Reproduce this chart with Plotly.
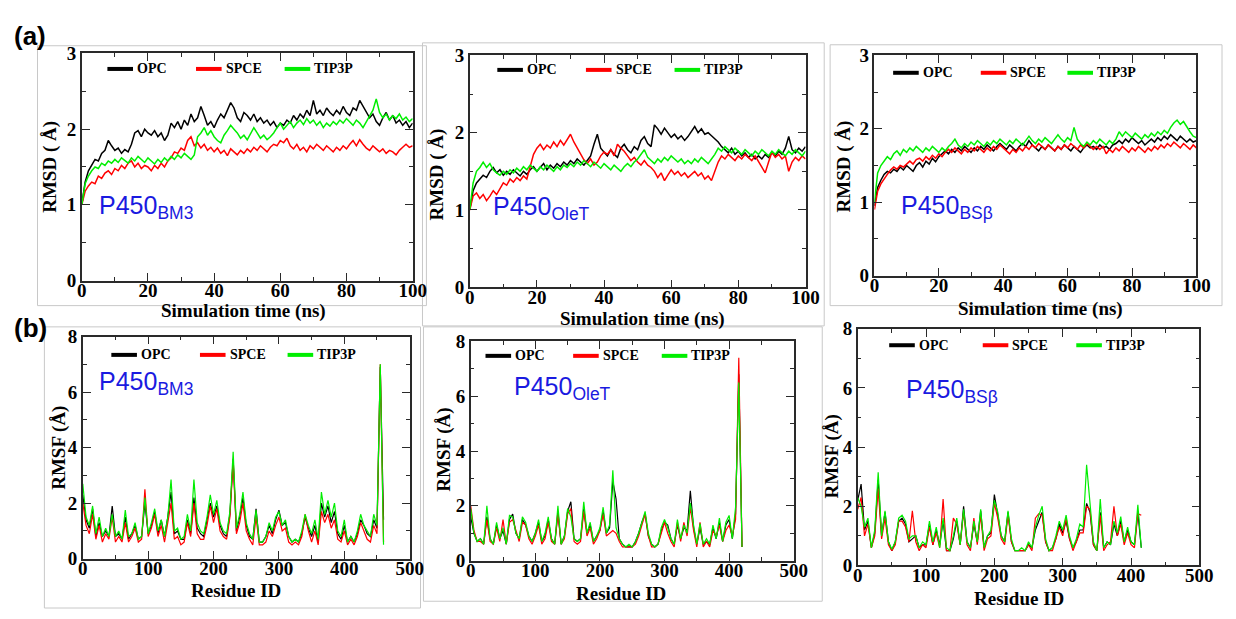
import plotly.graph_objects as go

W, H = 1236, 619

# ---------------- data ----------------
TIME_NS = list(range(0, 101))
RES_BM3 = list(range(0, 461, 5))
RES_OLET = list(range(0, 421, 5))
RES_BSB = list(range(0, 416, 5))
MODELS = ["OPC", "SPCE", "TIP3P"]
COLORS = {"OPC": "#000000", "SPCE": "#ff0000", "TIP3P": "#00ee00"}

RMSD_BM3_OPC = [1.00,1.30,1.45,1.52,1.60,1.58,1.68,1.72,1.85,1.78,
 1.72,1.75,1.68,1.73,1.70,1.80,1.95,1.98,1.90,2.00,
 1.95,1.92,1.98,1.90,1.95,1.85,1.92,2.08,2.02,2.10,
 2.00,2.12,2.05,2.20,2.10,2.15,2.30,2.18,2.05,2.10,
 2.02,2.12,2.20,2.15,2.25,2.35,2.28,2.15,2.10,2.22,
 2.18,2.12,2.20,2.10,2.15,2.08,2.12,2.05,2.10,2.02,
 2.08,2.05,2.12,2.08,2.18,2.12,2.20,2.15,2.25,2.18,
 2.38,2.20,2.25,2.18,2.28,2.22,2.18,2.25,2.20,2.30,
 2.22,2.18,2.28,2.25,2.38,2.30,2.22,2.15,2.20,2.10,
 2.05,2.15,2.22,2.12,2.18,2.08,2.12,2.05,2.10,2.02,
 2.08]
RMSD_BM3_SPCE = [1.00,1.18,1.25,1.30,1.28,1.38,1.35,1.42,1.45,1.40,
 1.48,1.45,1.52,1.48,1.55,1.58,1.50,1.55,1.48,1.52,
 1.50,1.45,1.52,1.48,1.55,1.50,1.58,1.62,1.70,1.68,
 1.75,1.72,1.85,1.90,1.78,1.82,1.75,1.80,1.72,1.76,
 1.70,1.75,1.68,1.72,1.65,1.74,1.70,1.66,1.72,1.68,
 1.74,1.70,1.76,1.72,1.78,1.74,1.70,1.76,1.80,1.78,
 1.85,1.82,1.88,1.78,1.74,1.80,1.72,1.76,1.70,1.78,
 1.74,1.80,1.76,1.72,1.78,1.74,1.70,1.76,1.72,1.78,
 1.74,1.80,1.85,1.78,1.86,1.80,1.75,1.72,1.78,1.74,
 1.70,1.74,1.68,1.72,1.70,1.66,1.72,1.76,1.80,1.76,
 1.78]
RMSD_BM3_TIP3P = [1.00,1.28,1.38,1.45,1.50,1.48,1.55,1.52,1.58,1.55,
 1.60,1.56,1.62,1.58,1.55,1.62,1.58,1.64,1.60,1.56,
 1.62,1.58,1.54,1.60,1.56,1.62,1.58,1.64,1.60,1.66,
 1.62,1.68,1.64,1.60,1.66,1.90,1.95,2.02,1.92,1.98,
 1.90,1.85,1.82,1.92,1.98,2.05,2.00,1.95,1.88,1.92,
 1.86,1.95,2.02,1.95,1.88,1.92,1.86,1.90,1.95,2.02,
 2.08,2.00,2.05,2.10,2.02,2.08,2.12,2.06,2.14,2.08,
 2.12,2.05,2.10,2.02,2.08,2.04,2.10,2.06,2.12,2.08,
 2.14,2.10,2.05,2.12,2.08,2.02,2.10,2.18,2.25,2.40,
 2.22,2.15,2.20,2.12,2.18,2.14,2.20,2.12,2.16,2.10,
 2.14]

RMSD_OLET_OPC = [1.00,1.25,1.35,1.40,1.45,1.42,1.50,1.55,1.48,1.52,
 1.45,1.50,1.46,1.52,1.48,1.44,1.50,1.46,1.52,1.56,
 1.50,1.55,1.60,1.52,1.58,1.54,1.60,1.56,1.62,1.58,
 1.64,1.60,1.66,1.62,1.58,1.64,1.70,1.85,1.98,1.80,
 1.75,1.70,1.78,1.72,1.68,1.80,1.85,1.78,1.74,1.82,
 1.78,1.90,1.95,1.86,1.82,2.10,2.05,1.98,2.06,2.00,
 1.94,1.98,1.92,1.96,1.90,1.95,2.02,2.08,2.00,2.05,
 1.98,2.00,1.96,1.92,1.88,1.82,1.78,1.74,1.80,1.72,
 1.76,1.70,1.74,1.68,1.72,1.66,1.70,1.66,1.72,1.68,
 1.74,1.70,1.76,1.72,1.80,1.95,1.78,1.74,1.80,1.76,
 1.82]
RMSD_OLET_SPCE = [1.00,1.18,1.22,1.15,1.20,1.12,1.18,1.25,1.20,1.28,
 1.35,1.32,1.40,1.36,1.42,1.38,1.44,1.40,1.55,1.72,
 1.80,1.85,1.78,1.84,1.80,1.88,1.82,1.90,1.84,1.92,
 1.98,1.88,1.80,1.72,1.65,1.60,1.66,1.58,1.62,1.70,
 1.75,1.72,1.78,1.70,1.85,1.80,1.76,1.70,1.64,1.68,
 1.62,1.58,1.64,1.58,1.55,1.50,1.42,1.48,1.38,1.45,
 1.52,1.46,1.50,1.44,1.48,1.42,1.46,1.50,1.44,1.48,
 1.40,1.44,1.38,1.50,1.62,1.70,1.66,1.72,1.68,1.64,
 1.70,1.66,1.72,1.68,1.64,1.70,1.62,1.55,1.48,1.62,
 1.75,1.68,1.72,1.66,1.70,1.50,1.62,1.68,1.64,1.70,
 1.66]
RMSD_OLET_TIP3P = [1.00,1.35,1.50,1.55,1.62,1.55,1.60,1.52,1.48,1.45,
 1.50,1.46,1.52,1.48,1.54,1.50,1.56,1.52,1.58,1.54,
 1.50,1.56,1.52,1.58,1.54,1.50,1.56,1.52,1.58,1.55,
 1.60,1.56,1.62,1.58,1.64,1.60,1.56,1.62,1.58,1.54,
 1.60,1.56,1.52,1.58,1.54,1.50,1.56,1.60,1.56,1.62,
 1.66,1.72,1.78,1.68,1.64,1.60,1.66,1.62,1.68,1.64,
 1.70,1.66,1.62,1.66,1.60,1.64,1.60,1.66,1.62,1.68,
 1.64,1.60,1.66,1.72,1.80,1.76,1.82,1.78,1.74,1.80,
 1.76,1.72,1.78,1.74,1.70,1.76,1.72,1.78,1.74,1.70,
 1.76,1.72,1.78,1.74,1.70,1.76,1.72,1.78,1.74,1.70,
 1.76]

RMSD_BSB_OPC = [0.95,1.20,1.30,1.38,1.42,1.40,1.45,1.42,1.48,1.44,
 1.50,1.46,1.42,1.50,1.54,1.48,1.56,1.52,1.60,1.55,
 1.62,1.66,1.70,1.66,1.72,1.68,1.74,1.70,1.76,1.72,
 1.68,1.74,1.70,1.76,1.72,1.78,1.74,1.70,1.76,1.80,
 1.76,1.72,1.78,1.74,1.70,1.76,1.80,1.76,1.84,1.78,
 1.74,1.70,1.76,1.72,1.78,1.74,1.70,1.76,1.72,1.78,
 1.74,1.70,1.76,1.72,1.68,1.74,1.78,1.74,1.76,1.72,
 1.78,1.74,1.76,1.72,1.78,1.80,1.84,1.80,1.86,1.82,
 1.88,1.84,1.80,1.84,1.78,1.82,1.86,1.82,1.88,1.84,
 1.90,1.86,1.92,1.88,1.84,1.90,1.86,1.82,1.86,1.82,
 1.84]
RMSD_BSB_SPCE = [0.90,1.15,1.25,1.32,1.38,1.44,1.48,1.45,1.50,1.48,
 1.52,1.56,1.52,1.58,1.60,1.56,1.62,1.58,1.64,1.60,
 1.66,1.62,1.68,1.72,1.68,1.74,1.70,1.66,1.72,1.68,
 1.74,1.70,1.76,1.72,1.68,1.74,1.70,1.76,1.72,1.78,
 1.74,1.70,1.66,1.72,1.68,1.74,1.70,1.76,1.72,1.78,
 1.74,1.80,1.76,1.72,1.78,1.74,1.70,1.76,1.72,1.78,
 1.74,1.80,1.76,1.72,1.78,1.74,1.80,1.76,1.72,1.76,
 1.72,1.76,1.66,1.72,1.68,1.74,1.70,1.76,1.72,1.68,
 1.74,1.70,1.76,1.72,1.68,1.74,1.70,1.76,1.72,1.78,
 1.74,1.80,1.76,1.82,1.78,1.74,1.80,1.76,1.72,1.78,
 1.74]
RMSD_BSB_TIP3P = [1.00,1.40,1.50,1.56,1.62,1.58,1.66,1.70,1.64,1.72,
 1.68,1.74,1.70,1.76,1.72,1.68,1.74,1.70,1.76,1.72,
 1.68,1.74,1.70,1.76,1.80,1.86,1.78,1.74,1.80,1.76,
 1.82,1.78,1.84,1.80,1.76,1.82,1.78,1.84,1.80,1.86,
 1.82,1.78,1.84,1.80,1.86,1.82,1.78,1.84,1.90,1.84,
 1.80,1.86,1.82,1.88,1.84,1.80,1.86,1.92,1.86,1.82,
 1.88,1.84,2.02,1.86,1.80,1.76,1.82,1.78,1.84,1.80,
 1.86,1.82,1.78,1.84,1.80,1.86,1.96,1.90,1.96,1.92,
 1.88,1.94,1.90,1.86,1.92,1.88,1.94,1.90,1.96,1.92,
 1.98,1.94,2.02,2.08,2.12,2.06,2.10,2.02,1.96,1.90,
 1.88]

RMSF_BM3_OPC = [2.3,1.4,1.1,1.8,0.8,1.3,0.8,1.0,0.8,1.9,
 0.8,0.9,0.7,1.5,0.7,0.9,1.2,0.7,0.8,2.0,
 0.9,1.2,1.7,0.9,1.4,0.8,1.5,2.4,0.9,1.0,
 0.7,0.7,1.4,0.9,2.2,1.1,0.9,0.8,1.4,2.0,
 1.5,1.9,1.2,0.9,0.8,1.6,3.6,1.0,1.5,2.2,
 1.2,0.8,0.7,1.8,0.6,0.6,0.8,1.2,0.9,1.4,
 1.75,1.2,1.3,0.8,0.6,0.7,0.6,0.9,1.5,1.1,
 0.8,1.2,0.6,2.0,1.5,1.9,1.3,1.7,0.9,0.7,
 1.2,0.6,0.8,0.6,0.9,1.4,1.2,0.9,0.8,1.4,
 1.1,6.9,1.4]
RMSF_BM3_SPCE = [2.0,1.2,0.9,1.6,0.7,1.2,0.6,0.9,0.7,1.5,
 0.6,0.8,0.6,1.3,0.6,0.8,1.1,0.6,0.7,2.5,
 0.8,1.1,1.6,0.8,1.2,0.6,1.3,2.0,0.7,0.8,
 0.5,0.6,1.3,0.8,2.0,0.9,0.7,0.7,1.2,1.9,
 1.3,1.8,1.0,0.8,0.7,1.5,3.5,0.9,1.3,2.0,
 1.0,0.7,0.5,1.5,0.5,0.5,0.6,1.0,0.8,1.2,
 1.5,1.0,1.1,0.6,0.5,0.6,0.5,0.8,1.6,1.0,
 0.6,1.0,0.5,1.7,1.3,1.6,1.1,1.4,0.7,0.6,
 1.0,0.5,0.7,0.5,0.8,1.3,1.0,0.7,0.6,1.2,
 0.9,7.0,0.6]
RMSF_BM3_TIP3P = [2.7,1.5,1.2,1.9,0.9,1.5,0.8,1.1,0.8,1.6,
 0.8,1.0,0.7,1.75,0.8,0.9,1.3,0.7,0.8,2.2,
 0.9,1.3,1.8,1.0,1.4,0.8,1.5,2.85,1.0,1.1,
 0.7,0.8,1.6,1.0,2.85,1.3,1.0,0.9,1.5,2.3,
 1.6,2.1,1.3,1.0,0.9,1.7,3.85,1.1,1.6,2.4,
 1.3,0.9,0.7,1.75,0.6,0.6,0.8,1.3,1.0,1.5,
 1.7,1.2,1.4,0.8,0.6,0.7,0.6,1.0,1.6,1.2,
 0.9,1.4,0.7,2.4,1.6,2.1,1.5,2.0,1.0,0.8,
 1.4,0.6,0.8,0.6,1.0,1.6,1.2,1.0,0.8,1.6,
 1.2,7.0,0.5]

RMSF_OLET_OPC = [1.6,1.0,0.7,0.8,0.6,1.6,0.8,0.6,1.3,0.8,
 1.1,0.6,1.5,1.7,1.0,0.8,1.5,1.3,0.9,0.7,
 1.0,1.4,0.7,0.9,1.5,0.8,0.6,1.8,0.6,0.9,
 1.8,2.15,0.8,0.7,0.8,1.9,1.0,1.3,0.7,0.9,
 1.1,1.8,1.0,1.2,2.9,2.25,0.8,0.6,0.5,0.5,
 0.5,0.7,1.0,1.4,1.7,0.9,0.6,0.5,0.6,1.1,
 1.4,1.3,0.8,0.6,1.3,0.8,1.2,1.1,2.55,1.2,
 0.6,1.2,0.6,0.7,0.6,1.2,0.8,1.4,0.7,1.3,
 1.5,0.8,1.7,6.8,0.5]
RMSF_OLET_SPCE = [2.0,1.1,0.7,0.7,0.6,1.5,0.7,0.6,1.2,0.7,
 1.5,0.6,1.4,1.5,1.1,0.7,1.4,1.3,0.8,0.6,
 0.9,1.3,0.6,0.8,1.4,0.7,0.6,1.7,0.6,0.8,
 1.7,1.9,0.7,0.6,0.7,1.8,0.9,1.2,0.6,0.8,
 1.1,1.7,0.9,1.0,1.1,1.0,0.7,0.5,0.5,0.5,
 0.5,0.6,0.9,1.3,1.7,0.9,0.5,0.5,0.6,1.0,
 1.4,1.0,0.7,0.5,1.4,0.7,1.4,0.9,1.95,1.1,
 0.5,1.4,0.5,0.7,0.5,1.1,0.9,1.3,0.7,1.1,
 1.3,0.9,1.5,7.4,0.5]
RMSF_OLET_TIP3P = [1.9,1.0,0.7,0.8,0.6,2.0,0.8,0.6,1.4,0.8,
 1.2,0.6,1.65,1.6,1.0,0.8,1.6,1.4,0.9,0.7,
 1.0,1.5,0.7,1.0,1.6,0.8,0.6,2.0,0.6,0.9,
 1.9,1.6,0.8,0.7,0.8,2.15,1.0,1.4,0.7,0.9,
 1.2,1.95,1.0,1.3,3.3,1.2,0.8,0.6,0.5,0.6,
 0.5,0.7,1.0,1.4,1.8,1.0,0.6,0.5,0.6,1.2,
 1.5,1.2,0.8,0.6,1.5,0.8,1.3,1.0,2.1,1.3,
 0.6,1.35,0.6,0.8,0.6,1.3,0.8,1.55,0.7,1.4,
 1.65,0.8,1.95,6.5,0.5]

RMSF_BSB_OPC = [2.2,2.75,1.2,1.5,0.6,1.1,2.9,1.0,1.8,0.8,
 0.5,0.8,1.5,1.6,1.4,0.8,0.9,1.0,0.6,0.7,
 0.7,1.4,0.7,1.2,0.7,1.5,0.5,0.5,0.9,1.5,
 0.7,2.0,0.8,0.6,1.4,0.8,1.85,0.6,1.0,1.1,
 2.4,1.7,1.0,0.8,1.8,0.8,0.5,0.5,0.5,0.5,
 0.7,0.6,1.2,1.5,1.8,0.8,0.5,0.6,0.9,1.4,
 1.1,1.5,0.9,0.6,0.8,1.2,1.2,2.1,1.8,0.7,
 0.5,1.8,0.6,0.8,0.7,1.4,1.0,1.5,0.8,1.2,
 0.8,0.7,1.8,0.6]
RMSF_BSB_SPCE = [1.9,2.3,1.0,1.4,0.6,1.0,2.6,0.9,1.6,0.7,
 0.5,0.7,1.5,1.5,1.3,0.8,1.85,0.8,0.5,0.7,
 0.6,1.3,0.7,1.1,0.6,2.25,0.5,0.5,1.6,1.4,
 0.7,1.8,0.7,0.5,1.6,0.7,1.7,0.5,0.9,1.0,
 2.1,1.6,0.9,0.7,1.7,0.8,0.5,0.5,0.5,0.5,
 0.7,0.5,1.6,1.75,1.7,0.8,0.5,0.5,0.9,1.3,
 1.0,1.6,0.9,0.5,0.8,1.1,1.1,2.0,1.9,0.7,
 0.5,1.7,0.5,0.7,0.8,2.0,1.0,1.4,0.7,1.1,
 0.7,0.6,1.75,1.7]
RMSF_BSB_TIP3P = [2.3,2.0,1.3,1.6,0.6,1.2,3.15,1.0,1.85,0.8,
 0.55,0.8,1.6,1.7,1.5,0.9,1.0,1.0,0.6,0.8,
 0.7,1.5,0.8,1.3,0.6,1.6,0.6,0.5,1.0,1.6,
 0.7,1.9,0.8,0.6,1.5,0.8,1.9,0.6,1.0,1.2,
 2.2,1.8,1.0,0.8,1.85,0.9,0.5,0.5,0.6,0.5,
 0.8,0.6,1.3,1.7,2.0,0.9,0.5,0.6,1.0,1.5,
 1.2,1.7,1.0,0.6,0.9,1.4,1.3,3.4,2.1,0.8,
 0.5,2.25,0.6,0.8,0.7,1.5,1.1,1.65,0.8,1.3,
 0.8,0.7,2.05,0.6]

# ---------------- layout helpers ----------------
def fx(p):
    return p / W


def fy(p):
    return 1 - p / H


SERIF = "Liberation Serif"
SANS = "Liberation Sans"
BLUE = "#1a1ae0"
FRAME = "#2a2a2a"

PANELS = [
    dict(x=TIME_NS, ys=[RMSD_BM3_OPC, RMSD_BM3_SPCE, RMSD_BM3_TIP3P], kind="rmsd",
         box=(78, 45, 414, 280), lab="P450<sub>BM3</sub>", labpos=(93, 204),
         leg=(26, 116, 206, 16), ytit=(45, 162), xtit=(242, 312)),
    dict(x=TIME_NS, ys=[RMSD_OLET_OPC, RMSD_OLET_SPCE, RMSD_OLET_TIP3P], kind="rmsd",
         box=(472, 47, 813, 287), lab="P450<sub>OleT</sub>", labpos=(494, 205),
         leg=(28, 118, 208, 15), ytit=(439, 170), xtit=(647, 320)),
    dict(x=TIME_NS, ys=[RMSD_BSB_OPC, RMSD_BSB_SPCE, RMSD_BSB_TIP3P], kind="rmsd",
         box=(883, 47, 1210, 275), lab="P450<sub>BSβ</sub>", labpos=(908, 204),
         leg=(19, 108, 196, 18), ytit=(852, 162), xtit=(1052, 310)),
    dict(x=RES_BM3, ys=[RMSF_BM3_OPC, RMSF_BM3_SPCE, RMSF_BM3_TIP3P], kind="rmsf",
         box=(79, 338, 411, 568), lab="P450<sub>BM3</sub>", labpos=(93, 386),
         leg=(29, 119, 208, 19), ytit=(54, 453), xtit=(235, 601)),
    dict(x=RES_OLET, ys=[RMSF_OLET_OPC, RMSF_OLET_SPCE, RMSF_OLET_TIP3P], kind="rmsf",
         box=(473, 343, 801, 570), lab="P450<sub>OleT</sub>", labpos=(515, 391),
         leg=(15, 104, 194, 15), ytit=(445, 455), xtit=(626, 604)),
    dict(x=RES_BSB, ys=[RMSF_BSB_OPC, RMSF_BSB_SPCE, RMSF_BSB_TIP3P], kind="rmsf",
         box=(866, 330, 1213, 575), lab="P450<sub>BSβ</sub>", labpos=(913, 394),
         leg=(32, 127, 222, 17), ytit=(840, 462), xtit=(1030, 609)),
]

fig = go.Figure()
shapes = []
annotations = []

# light grey frames of the composed sub-figures
for (a, b, c, d) in [(33, 37, 428, 306), (424, 34, 832, 327), (838, 36, 1236, 306),
                     (40, 328, 422, 619), (425, 328, 830, 612)]:
    shapes.append(dict(type="rect", xref="paper", yref="paper", x0=fx(a), x1=fx(c),
                       y0=fy(b), y1=fy(d), line=dict(color="#c8c8c8", width=1),
                       fillcolor="rgba(0,0,0,0)", layer="below"))

tickfont = dict(family=SERIF, size=19, color="black", weight="bold")

for i, p in enumerate(PANELS, start=1):
    sfx = "" if i == 1 else str(i)
    L, T, R, B = p["box"]
    for m, ys in zip(MODELS, p["ys"]):
        xs = p["x"][:len(ys)]
        fig.add_trace(go.Scatter(
            x=xs, y=ys[:len(xs)], mode="lines", name=m, showlegend=False,
            line=dict(color=COLORS[m], width=1.5 if p["kind"] == "rmsd" else 1.2),
            xaxis="x" + sfx, yaxis="y" + sfx, hoverinfo="skip"))
    if p["kind"] == "rmsd":
        xr, xd, xm = [0, 100], 20, 10
        yr, yd, ym = [0, 3], 1, 0.5
        ytitle, xtitle = "RMSD ( Å)", "Simulation time (ns)"
    else:
        xr, xd, xm = [0, 500], 100, 50
        yr, yd, ym = [0, 8], 2, 1
        ytitle, xtitle = "RMSF (Å)", "Residue ID"
    common = dict(showgrid=False, zeroline=False, showline=True, linecolor=FRAME,
                  linewidth=1.5, mirror="ticks", ticks="inside", ticklen=8,
                  tickwidth=1.3, tickcolor=FRAME, tickfont=tickfont,
                  minor=dict(ticks="inside", ticklen=4, tickwidth=1.1, tickcolor=FRAME))
    fig.update_layout(**{
        "xaxis" + sfx: dict(domain=[fx(L), fx(R)], anchor="y" + sfx, range=xr,
                            dtick=xd, tick0=0, minor_dtick=xm, ticklabelstandoff=-8,
                            **common),
        "yaxis" + sfx: dict(domain=[fy(B), fy(T)], anchor="x" + sfx, range=yr,
                            dtick=yd, tick0=0, minor_dtick=ym, **common),
    })
    # axis titles
    annotations.append(dict(xref="paper", yref="paper", x=fx(p["ytit"][0]), y=fy(p["ytit"][1]),
                            text=ytitle, textangle=-90, showarrow=False,
                            xanchor="center", yanchor="middle",
                            font=dict(family=SERIF, size=19, color="black", weight="bold")))
    annotations.append(dict(xref="paper", yref="paper", x=fx(p["xtit"][0]), y=fy(p["xtit"][1]),
                            text=xtitle, showarrow=False, xanchor="center", yanchor="middle",
                            font=dict(family=SERIF, size=19, color="black", weight="bold")))
    # protein label
    annotations.append(dict(xref="paper", yref="paper", x=fx(p["labpos"][0]), y=fy(p["labpos"][1]),
                            text=p["lab"], showarrow=False, xanchor="left", yanchor="middle",
                            font=dict(family=SANS, size=25, color=BLUE)))
    # legend
    o1, o2, o3, yo = p["leg"]
    for m, o in zip(MODELS, (o1, o2, o3)):
        x0 = L + o
        shapes.append(dict(type="line", xref="paper", yref="paper",
                           x0=fx(x0), x1=fx(x0 + 26), y0=fy(T + yo), y1=fy(T + yo),
                           line=dict(color=COLORS[m], width=4)))
        annotations.append(dict(xref="paper", yref="paper", x=fx(x0 + 28), y=fy(T + yo),
                                text=m, showarrow=False, xanchor="left", yanchor="middle",
                                font=dict(family=SERIF, size=14, color="black", weight="bold")))

for txt, yy in [("(a)", 27), ("(b)", 329)]:
    annotations.append(dict(xref="paper", yref="paper", x=fx(7), y=fy(yy), text=txt,
                            showarrow=False, xanchor="left", yanchor="middle",
                            font=dict(family=SANS, size=26, color="black", weight="bold")))

fig.update_layout(width=W, height=H, margin=dict(l=0, r=0, t=0, b=0),
                  paper_bgcolor="white", plot_bgcolor="white",
                  shapes=shapes, annotations=annotations, showlegend=False)

fig.write_html("out.html")
